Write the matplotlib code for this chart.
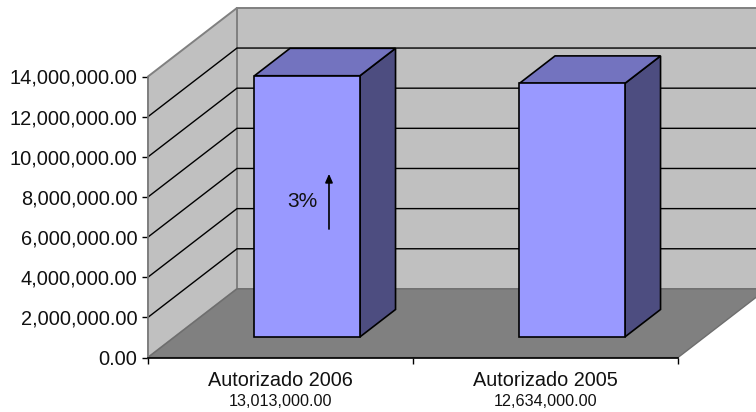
import matplotlib
matplotlib.use('Agg')
import matplotlib.pyplot as plt
from matplotlib.patches import Polygon

plt.rcParams['font.family'] = ['Liberation Sans', 'DejaVu Sans']

categorias = ['Autorizado 2006', 'Autorizado 2005']
valores = [13013000.00, 12634000.00]
etiquetas_valor = ['13,013,000.00', '12,634,000.00']
ticks_y = [0, 2000000, 4000000, 6000000, 8000000, 10000000, 12000000, 14000000]
etiquetas_y = ['0.00', '2,000,000.00', '4,000,000.00', '6,000,000.00', '8,000,000.00',
               '10,000,000.00', '12,000,000.00', '14,000,000.00']
texto_cambio = '3%'

# desplazamiento de la profundidad (falso 3D), en unidades de los ejes
PROF_X = 89 / 265
PROF_Y = 68.6 / 281 * 14000000
ANCHO = 0.398
PROF_INI = 0.30
PROF_FIN = 0.70
X_MAX = len(categorias)
Y_MAX = ticks_y[-1]

fig = plt.figure(figsize=(7.56, 4.12), dpi=100)
ax = fig.add_axes([148 / 756, (412 - 357.5) / 412, 530 / 756, 281 / 412])
ax.set_xlim(0, X_MAX)
ax.set_ylim(0, Y_MAX)
ax.patch.set_visible(False)


def proy(x, v, d):
    return (x + d * PROF_X, v + d * PROF_Y)


def cara(puntos, color, borde, z, lw=1.0):
    ax.add_patch(Polygon([proy(*p) for p in puntos], closed=True, facecolor=color,
                         edgecolor=borde, linewidth=lw, zorder=z, clip_on=False,
                         joinstyle='miter'))


# paredes y piso
cara([(0, 0, 1), (X_MAX, 0, 1), (X_MAX, Y_MAX, 1), (0, Y_MAX, 1)], '#C0C0C0', '#808080', 1, 1.4)
cara([(0, 0, 0), (0, 0, 1), (0, Y_MAX, 1), (0, Y_MAX, 0)], '#C0C0C0', '#808080', 1, 1.4)
cara([(0, 0, 0), (X_MAX, 0, 0), (X_MAX, 0, 1), (0, 0, 1)], '#808080', '#6E6E6E', 2, 1.0)

# lineas de division
for t in ticks_y[1:-1]:
    a = proy(0, t, 0)
    b = proy(0, t, 1)
    c = proy(X_MAX, t, 1)
    ax.plot([a[0], b[0], c[0]], [a[1], b[1], c[1]], color='black', lw=1.0, zorder=3,
            clip_on=False, solid_joinstyle='miter')

# barras
for i, v in enumerate(valores):
    x0 = i + 0.5 - ANCHO / 2
    x1 = i + 0.5 + ANCHO / 2
    cara([(x1, 0, PROF_INI), (x1, 0, PROF_FIN), (x1, v, PROF_FIN), (x1, v, PROF_INI)], '#4D4D80', 'black', 4, 1.2)
    cara([(x0, v, PROF_INI), (x1, v, PROF_INI), (x1, v, PROF_FIN), (x0, v, PROF_FIN)], '#7373BF', 'black', 4, 1.2)
    cara([(x0, 0, PROF_INI), (x1, 0, PROF_INI), (x1, v, PROF_INI), (x0, v, PROF_INI)], '#9999FF', 'black', 5, 1.2)

# ejes
for s in ['top', 'right']:
    ax.spines[s].set_visible(False)
ax.spines['left'].set_color('#808080')
ax.spines['left'].set_linewidth(1.2)
ax.spines['left'].set_zorder(3)
ax.spines['bottom'].set_color('black')
ax.spines['bottom'].set_linewidth(1.2)
ax.spines['bottom'].set_zorder(6)
ax.set_yticks(ticks_y)
ax.set_yticklabels(etiquetas_y, fontsize=14.4, color='#111111')
ax.set_xticks(range(X_MAX + 1))
ax.set_xticklabels([])
ax.tick_params(axis='both', length=4, width=1.0, color='black', pad=3.5)

for i, c in enumerate(categorias):
    ax.annotate(c, xy=(i + 0.5, 0), xytext=(0, -23), xycoords='data', textcoords='offset pixels',
                ha='center', va='center', fontsize=14.3, color='#111111', annotation_clip=False)
    ax.annotate(etiquetas_valor[i], xy=(i + 0.5, 0), xytext=(0, -44), xycoords='data',
                textcoords='offset pixels', ha='center', va='center', fontsize=11.6,
                color='#111111', annotation_clip=False)

# flecha y porcentaje sobre la primera barra
ax.annotate('', xy=(0.683, 9.15e6), xytext=(0.683, 6.4e6), zorder=7,
            arrowprops=dict(arrowstyle='-|>,head_width=0.22,head_length=0.5', color='black',
                            lw=1.2, shrinkA=0, shrinkB=0))
ax.text(0.583, 7.75e6, texto_cambio, fontsize=15, ha='center', va='center', color='#111111', zorder=7)

fig.savefig('out.png', dpi=100)
